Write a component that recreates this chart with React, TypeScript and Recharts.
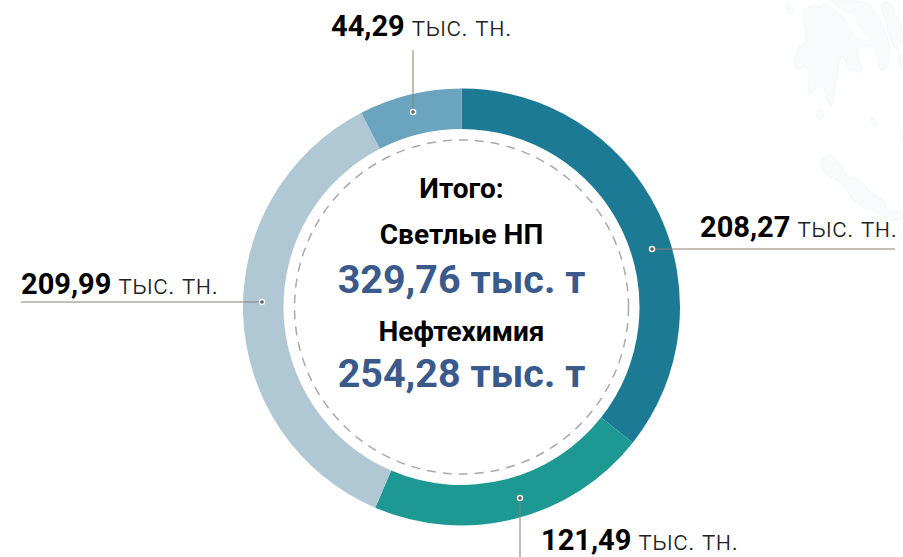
import React from 'react';
import { PieChart, Pie, Cell } from 'recharts';

const categories = ['seg1', 'seg2', 'seg3', 'seg4'];
const values = [208.27, 121.49, 209.99, 44.29];
const colors = ['#1c7a95', '#1d9893', '#b0c8d4', '#6ba4bf'];

const valueLabels = ['208,27', '121,49', '209,99', '44,29'];
const unitLabel = 'тыс. тн.';

const totalTitle = 'Итого:';
const lightLabel = 'Светлые НП';
const lightTotal = '329,76 тыс. т';
const chemLabel = 'Нефтехимия';
const chemTotal = '254,28 тыс. т';

const data = categories.map((name, i) => ({ name, value: values[i] }));

const font = 'Roboto, sans-serif';
const cx = 461.5;
const cy = 307;

// leader lines: dot -> line end, text anchor
const leaders = [
  { dot: [652, 249], end: [895, 249], text: [700, 237] },
  { dot: [520, 498], end: [520, 557], text: [541, 550] },
  { dot: [262, 302], end: [21, 302], text: [21, 294] },
  { dot: [413, 112], end: [413, 50], text: [331, 36] },
];

// faint map in the background, traced in crop coords (3x)
const mapTop = [
  [[15, 12], [28, 1], [40, 30], [38, 44], [26, 44]],
  [[65, 30], [105, 13], [125, 25], [130, 0], [260, 0], [290, 40], [320, 100], [332, 150], [325, 200], [305, 215], [293, 195], [295, 165], [280, 140], [232, 135], [232, 170], [250, 205], [240, 220], [220, 210], [205, 212], [190, 165], [180, 170], [165, 260], [160, 318], [148, 315], [135, 285], [135, 260], [120, 255], [100, 270], [90, 290], [82, 280], [90, 220], [75, 195], [55, 210], [42, 195], [50, 145], [80, 125], [75, 85]],
  [[295, 10], [330, 5], [345, 40], [369, 85], [369, 130], [350, 125], [358, 158], [330, 125], [320, 60]],
  [[355, 170], [369, 165], [369, 205], [352, 190]],
  [[110, 335], [122, 323], [135, 340], [125, 360], [112, 355]],
];
const mapInlet = [[130, 0], [160, 10], [190, 38], [215, 42], [230, 75], [262, 105], [265, 120], [228, 118], [205, 70], [185, 38], [150, 20]];
const mapBottom = [
  [[58, 155], [85, 133], [100, 135], [105, 155], [130, 165], [135, 200], [185, 210], [205, 245], [260, 275], [255, 295], [270, 305], [309, 300], [309, 330], [255, 330], [240, 310], [160, 280], [135, 225], [100, 205], [70, 185]],
  [[215, 20], [240, 45], [225, 52], [212, 35]],
  [[298, 85], [309, 70], [309, 97]],
];

const smooth = (pts: number[][], ox: number, oy: number) => {
  const p = pts.map(([x, y]) => [ox + x / 3, oy + y / 3]);
  const mid = (a: number[], b: number[]) => [(a[0] + b[0]) / 2, (a[1] + b[1]) / 2];
  const start = mid(p[p.length - 1], p[0]);
  let d = `M${start[0]} ${start[1]}`;
  p.forEach((pt, i) => {
    const m = mid(pt, p[(i + 1) % p.length]);
    d += ` Q${pt[0]} ${pt[1]} ${m[0]} ${m[1]}`;
  });
  return d + ' Z';
};

const App = () => (
  <div style={{ position: 'absolute', left: 0, top: 0, width: 903, height: 557, background: '#ffffff' }}>
    <svg width={903} height={557} style={{ position: 'absolute', left: 0, top: 0 }}>
      {mapTop.map((pts, i) => (
        <path key={i} d={smooth(pts, 780, 0)} fill="#f8fafb" stroke="#f5f7f8" />
      ))}
      <path d={smooth(mapInlet, 780, 0)} fill="#ffffff" />
      {mapBottom.map((pts, i) => (
        <path key={i} d={smooth(pts, 800, 110)} fill="#f8fafb" stroke="#f5f7f8" />
      ))}
    </svg>
    <div style={{ position: 'absolute', left: 0, top: 0 }}>
      <PieChart width={903} height={557} margin={{ top: 0, right: 0, bottom: 0, left: 0 }}>
        <Pie
          data={data}
          dataKey="value"
          cx={cx}
          cy={cy}
          innerRadius={178}
          outerRadius={218.5}
          startAngle={90}
          endAngle={-270}
          stroke="none"
          isAnimationActive={false}
        >
          {data.map((d, i) => (
            <Cell key={d.name} fill={colors[i]} />
          ))}
        </Pie>
      </PieChart>
    </div>
    <svg width={903} height={557} style={{ position: 'absolute', left: 0, top: 0, fontFamily: font }}>
      <circle cx={cx} cy={cy} r={167} fill="none" stroke="#a9a9a9" strokeWidth={1.5} strokeDasharray="9 7" />
      <text x={cx} y={198} textAnchor="middle" fontSize={28} fontWeight={700} fill="#000">{totalTitle}</text>
      <text x={cx} y={244} textAnchor="middle" fontSize={28} fontWeight={700} fill="#000">{lightLabel}</text>
      <text x={cx} y={293} textAnchor="middle" fontSize={39.5} fontWeight={700} fill="#3b5a8c">{lightTotal}</text>
      <text x={cx} y={341} textAnchor="middle" fontSize={28} fontWeight={700} fill="#000">{chemLabel}</text>
      <text x={cx} y={387} textAnchor="middle" fontSize={39.5} fontWeight={700} fill="#3b5a8c">{chemTotal}</text>
      {leaders.map((l, i) => (
        <g key={i}>
          <line x1={l.dot[0]} y1={l.dot[1]} x2={l.end[0]} y2={l.end[1]} stroke="#8a8078" strokeWidth={1} />
          <circle cx={l.dot[0]} cy={l.dot[1]} r={2.5} fill="#5f5a58" stroke="#f2f2f2" strokeWidth={1.5} />
          <text x={l.text[0]} y={l.text[1]} fontSize={29} fontWeight={700} fill="#000">
            {valueLabels[i]}
            <tspan fontSize={28} fontWeight={300} fill="#222" letterSpacing={0.25}>{' ' + unitLabel}</tspan>
          </text>
        </g>
      ))}
    </svg>
  </div>
);

export default App;
